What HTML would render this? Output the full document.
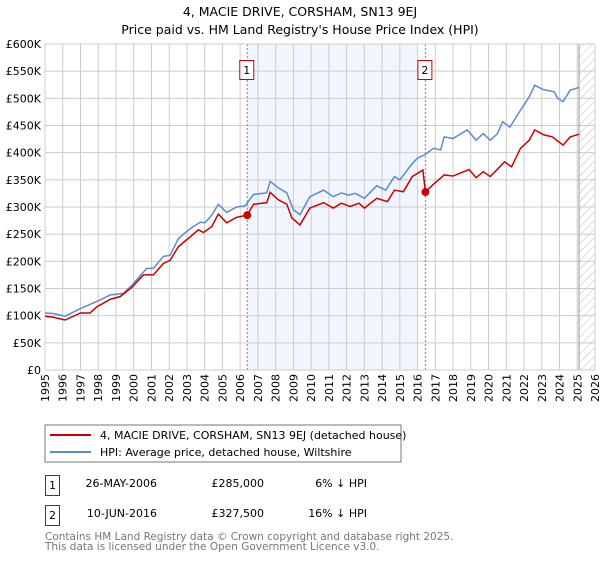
<!DOCTYPE html>
<html><head><meta charset="utf-8"><style>
body{margin:0;background:#fff;font-family:"DejaVu Sans","Liberation Sans",sans-serif;}
svg text{font-family:"DejaVu Sans","Liberation Sans",sans-serif;}
</style></head><body>
<svg id="c" width="600" height="560" xmlns="http://www.w3.org/2000/svg">
<text x="300" y="16" text-anchor="middle" font-size="12.5">4, MACIE DRIVE, CORSHAM, SN13 9EJ</text>
<text x="300" y="34" text-anchor="middle" font-size="12.5">Price paid vs. HM Land Registry's House Price Index (HPI)</text>
<defs><pattern id="hatch" width="6" height="6" patternUnits="userSpaceOnUse" patternTransform="rotate(45)"><line x1="0" y1="0" x2="0" y2="6" stroke="#bbb" stroke-width="1"/></pattern></defs>
<g id="plot"></g>
<rect x="45" y="425" width="356" height="37" fill="#fff" stroke="#777"/>
<line x1="50" y1="435" x2="91" y2="435" stroke="#cc0000" stroke-width="2"/>
<text x="100" y="439" font-size="11">4, MACIE DRIVE, CORSHAM, SN13 9EJ (detached house)</text>
<line x1="50" y1="452" x2="91" y2="452" stroke="#5b8bd0" stroke-width="2"/>
<text x="100" y="456" font-size="11">HPI: Average price, detached house, Wiltshire</text>
<g font-size="11">
<rect x="45.5" y="475.5" width="14" height="20" fill="none" stroke="#cc0000"/>
<text x="52.5" y="489" text-anchor="middle">1</text>
<text x="157" y="487" text-anchor="end">26-MAY-2006</text>
<text x="264" y="487" text-anchor="end">£285,000</text>
<text x="367" y="487" text-anchor="end">6% ↓ HPI</text>
<rect x="45.5" y="505.5" width="14" height="20" fill="none" stroke="#cc0000"/>
<text x="52.5" y="519" text-anchor="middle">2</text>
<text x="157" y="517" text-anchor="end">10-JUN-2016</text>
<text x="264" y="517" text-anchor="end">£327,500</text>
<text x="367" y="517" text-anchor="end">16% ↓ HPI</text>
</g>
<text x="45" y="540" font-size="10.5" fill="#777">Contains HM Land Registry data © Crown copyright and database right 2025.</text>
<text x="45" y="550" font-size="10.5" fill="#777">This data is licensed under the Open Government Licence v3.0.</text>
</svg>
<script>
const hpiYears=[1995,1995.47,1996.13,1997.0,1997.91,1998.67,1999.42,1999.98,2000.73,2001.11,2001.67,2002.05,2002.52,2003.18,2003.74,2004.02,2004.4,2004.77,2005.24,2005.8,2006.28,2006.75,2007.5,2007.69,2008.16,2008.63,2009.0,2009.37,2009.93,2010.7,2011.25,2011.7,2012.1,2012.5,2013.0,2013.7,2014.2,2014.7,2015.0,2015.7,2016.0,2016.4,2016.9,2017.3,2017.5,2018.0,2018.8,2019.3,2019.7,2020.1,2020.5,2020.8,2021.2,2021.8,2022.3,2022.6,2023.1,2023.7,2023.9,2024.2,2024.6,2025.1];
const hpiValues=[105,104,99,113,126,138,141,159,187,187,209,211,242,260,272,271,285,305,290,300,302,323,326,347,335,326,295,286,319,331,319,326,322,325,316,339,331,356,350,380,390,396,408,405,429,426,442,423,435,423,435,457,447,478,503,524,516,512,500,494,515,520];
const priceYears=[1995,1995.47,1996.13,1997.0,1997.54,1997.91,1998.67,1999.23,1999.89,2000.55,2001.11,2001.67,2002.05,2002.52,2003.18,2003.65,2003.93,2004.4,2004.77,2005.24,2005.8,2006.4,2006.75,2007.5,2007.69,2008.16,2008.63,2008.91,2009.37,2009.93,2010.7,2011.25,2011.7,2012.2,2012.7,2013.0,2013.7,2014.3,2014.7,2015.2,2015.7,2016.3,2016.44,2016.9,2017.5,2018.0,2018.9,2019.3,2019.7,2020.1,2020.9,2021.3,2021.8,2022.3,2022.6,2023.1,2023.6,2024.2,2024.6,2025.1];
const priceValues=[99,97,92,105,105,116,130,135,152,175,175,196,202,227,245,258,253,264,287,271,281,285,305,308,327,313,305,280,267,298,308,298,307,301,307,298,316,310,331,328,356,368,327.5,342,359,357,369,354,365,356,383,374,408,423,442,433,429,414,429,434];
const saleYears=[2006.4,2016.44];
const saleValues=[285,327.5];
const saleLabels=["1","2"];
const yTicks=[0,50,100,150,200,250,300,350,400,450,500,550,600];
const yTickLabels=["£0","£50K","£100K","£150K","£200K","£250K","£300K","£350K","£400K","£450K","£500K","£550K","£600K"];
const xTicks=[1995,1996,1997,1998,1999,2000,2001,2002,2003,2004,2005,2006,2007,2008,2009,2010,2011,2012,2013,2014,2015,2016,2017,2018,2019,2020,2021,2022,2023,2024,2025,2026];
const X0=45,X1=595,Y0=370,Y1=44;
const xs=y=>X0+(y-1995)/(2026-1995)*(X1-X0);
const ys=v=>Y0-v/600*(Y0-Y1);
const NS="http://www.w3.org/2000/svg";
const g=document.getElementById('plot');
function mk(t,a){const e=document.createElementNS(NS,t);for(const k in a)e.setAttribute(k,a[k]);g.appendChild(e);return e;}
let e;
e=mk('rect',{x:xs(saleYears[0]),y:Y1,width:xs(2016.0)-xs(saleYears[0]),height:Y0-Y1,fill:'#eef3fc',opacity:0.8});


e=mk('rect',{x:xs(2025.1),y:Y1,width:X1-xs(2025.1),height:Y0-Y1,fill:'url(#hatch)'});


yTicks.forEach((t,i)=>{
 e=mk('line',{x1:X0,x2:X1,y1:ys(t),y2:ys(t),stroke:'#ccc','stroke-width':1});
 
 
 e=mk('text',{x:X0-4,y:ys(t)+4,'text-anchor':'end','font-size':11});
 e.textContent=yTickLabels[i];
 
 
});
xTicks.forEach(t=>{
 e=mk('line',{x1:xs(t),x2:xs(t),y1:Y1,y2:Y0,stroke:'#ccc','stroke-width':1});
 
 
 e=mk('text',{x:0,y:0,'text-anchor':'end','font-size':11,transform:`translate(${xs(t)+4},${Y0+4}) rotate(-90)`});
 e.textContent=t;
 
 
});
e=mk('line',{x1:xs(2025.1),x2:xs(2025.1),y1:Y1,y2:Y0,stroke:'#999','stroke-width':1});


saleYears.forEach((s,i)=>{
 e=mk('line',{x1:xs(s),x2:xs(s),y1:Y1,y2:Y0,stroke:'#e55','stroke-width':1,'stroke-dasharray':'2,2'});
 
 
 e=mk('rect',{x:xs(s)-7.5,y:60.5,width:14,height:19,fill:'#fff',stroke:'#cc0000'});
 
 
 e=mk('text',{x:xs(s)-0.5,y:74,'text-anchor':'middle','font-size':11});
 e.textContent=saleLabels[i];
 
 
});
e=mk('rect',{x:X0,y:Y1,width:X1-X0,height:Y0-Y1,fill:'none',stroke:'#ccc'});


e=mk('polyline',{points:hpiYears.map((y,i)=>xs(y)+','+ys(hpiValues[i])).join(' '),fill:'none',stroke:'#5b8bd0','stroke-width':1.5});


e=mk('polyline',{points:priceYears.map((y,i)=>xs(y)+','+ys(priceValues[i])).join(' '),fill:'none',stroke:'#cc0000','stroke-width':1.5});


saleYears.forEach((s,i)=>{
 e=mk('circle',{cx:xs(s),cy:ys(saleValues[i]),r:4,fill:'#cc0000'});
 
 
});
</script>
</body></html>
